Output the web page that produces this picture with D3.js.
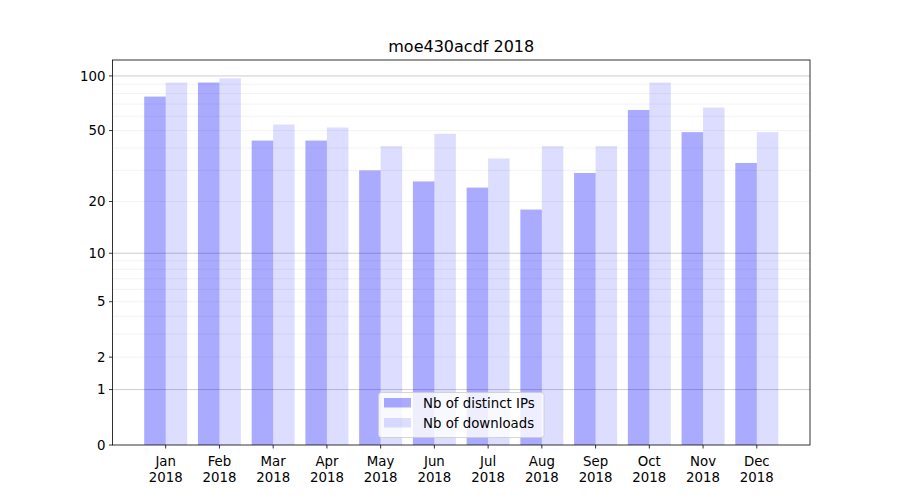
<!DOCTYPE html>
<html><head><meta charset="utf-8">
<script src="https://cdn.jsdelivr.net/npm/d3@7"></script>
<style>
body{margin:0;background:#fff;}
text{font-family:"DejaVu Sans",sans-serif;}
</style></head>
<body><svg id="c" width="900" height="500"></svg>
<script>
const title = "moe430acdf 2018";
const months = ["Jan","Feb","Mar","Apr","May","Jun","Jul","Aug","Sep","Oct","Nov","Dec"];
const year = "2018";
const ips = [77, 92, 44, 44, 30, 26, 24, 18, 29, 65, 49, 33];
const downloads = [92, 97, 54, 52, 41, 48, 35, 41, 41, 92, 67, 49];
const yTicks = [0, 1, 2, 5, 10, 20, 50, 100];
const majorGrid = [1, 10, 100];
const minorGrid = [2,3,4,5,6,7,8,9,20,30,40,50,60,70,80,90];
const seriesNames = ["Nb of distinct IPs", "Nb of downloads"];

const svg = d3.select("#c");
const L = 112.5, R = 810, T = 60, B = 445;
const tf = v => Math.log10(v + 1);
const barW = 0.4;
const lo = -barW, hi = months.length - 1 + barW, pad = 0.05 * (hi - lo);
const x = d3.scaleLinear().domain([lo - pad, hi + pad]).range([L, R]);
const tmax = d3.max(ips.concat(downloads), tf) * 1.05;
const yl = d3.scaleLinear().domain([0, tmax]).range([B, T]);
const y = v => yl(tf(v));

// grid
const g = svg.append("g");
g.selectAll(".mn").data(minorGrid.filter(v => tf(v) <= tmax)).join("line")
  .attr("x1", L).attr("x2", R).attr("y1", d => y(d)).attr("y2", d => y(d))
  .attr("stroke", "#b0b0b0").attr("stroke-opacity", 0.2).attr("stroke-width", 0.8);
g.selectAll(".mj").data(majorGrid).join("line")
  .attr("x1", L).attr("x2", R).attr("y1", d => y(d)).attr("y2", d => y(d))
  .attr("stroke", "#b0b0b0").attr("stroke-opacity", 0.8).attr("stroke-width", 0.8);

// bars
svg.append("g").selectAll("rect").data(ips).join("rect")
  .attr("x", (d, i) => x(i - barW)).attr("width", (d, i) => x(i) - x(i - barW))
  .attr("y", d => y(d)).attr("height", d => B - y(d))
  .attr("fill", "#0000ff").attr("fill-opacity", 1/3);
svg.append("g").selectAll("rect").data(downloads).join("rect")
  .attr("x", (d, i) => x(i)).attr("width", (d, i) => x(i + barW) - x(i))
  .attr("y", d => y(d)).attr("height", d => B - y(d))
  .attr("fill", "#0000ff").attr("fill-opacity", 0.135);

// frame
svg.append("rect").attr("x", L).attr("y", T).attr("width", R - L).attr("height", B - T)
  .attr("fill", "none").attr("stroke", "#000").attr("stroke-width", 0.8);

// y axis
const ya = svg.append("g");
yTicks.forEach(v => {
  ya.append("line").attr("x1", L - 3.5).attr("x2", L).attr("y1", y(v)).attr("y2", y(v)).attr("stroke", "#000").attr("stroke-width", 0.8);
  ya.append("text").attr("x", L - 7).attr("y", y(v)).attr("dy", "0.35em").attr("text-anchor", "end")
    .attr("font-size", "13.33px").attr("fill", "#000").text(v);
});
// x axis
const xa = svg.append("g");
months.forEach((m, i) => {
  xa.append("line").attr("x1", x(i)).attr("x2", x(i)).attr("y1", B).attr("y2", B + 3.5).attr("stroke", "#000").attr("stroke-width", 0.8);
  const t = xa.append("text").attr("x", x(i)).attr("y", B + 21).attr("text-anchor", "middle").attr("font-size", "13.33px").attr("fill", "#000");
  t.append("tspan").attr("x", x(i)).text(m);
  t.append("tspan").attr("x", x(i)).attr("dy", 15.5).text(year);
});

// title
svg.append("text").attr("x", (L + R) / 2).attr("y", 52).attr("text-anchor", "middle")
  .attr("font-size", "16px").attr("fill", "#000").text(title);

// legend
const lg = svg.append("g");
lg.append("rect").attr("x", 378.5).attr("y", 392.5).attr("width", 165.5).attr("height", 45).attr("rx", 3)
  .attr("fill", "#fff").attr("fill-opacity", 0.8).attr("stroke", "#cccccc").attr("stroke-width", 0.8);
const lc = [1/3, 0.135];
seriesNames.forEach((s, i) => {
  const yy = 398 + i * 20;
  lg.append("rect").attr("x", 384).attr("y", yy).attr("width", 27).attr("height", 9.5)
    .attr("fill", "#0000ff").attr("fill-opacity", lc[i]);
  lg.append("text").attr("x", 423).attr("y", yy + 5).attr("dy", "0.35em").attr("font-size", "13.33px").attr("fill", "#000").text(s);
});
</script></body></html>
